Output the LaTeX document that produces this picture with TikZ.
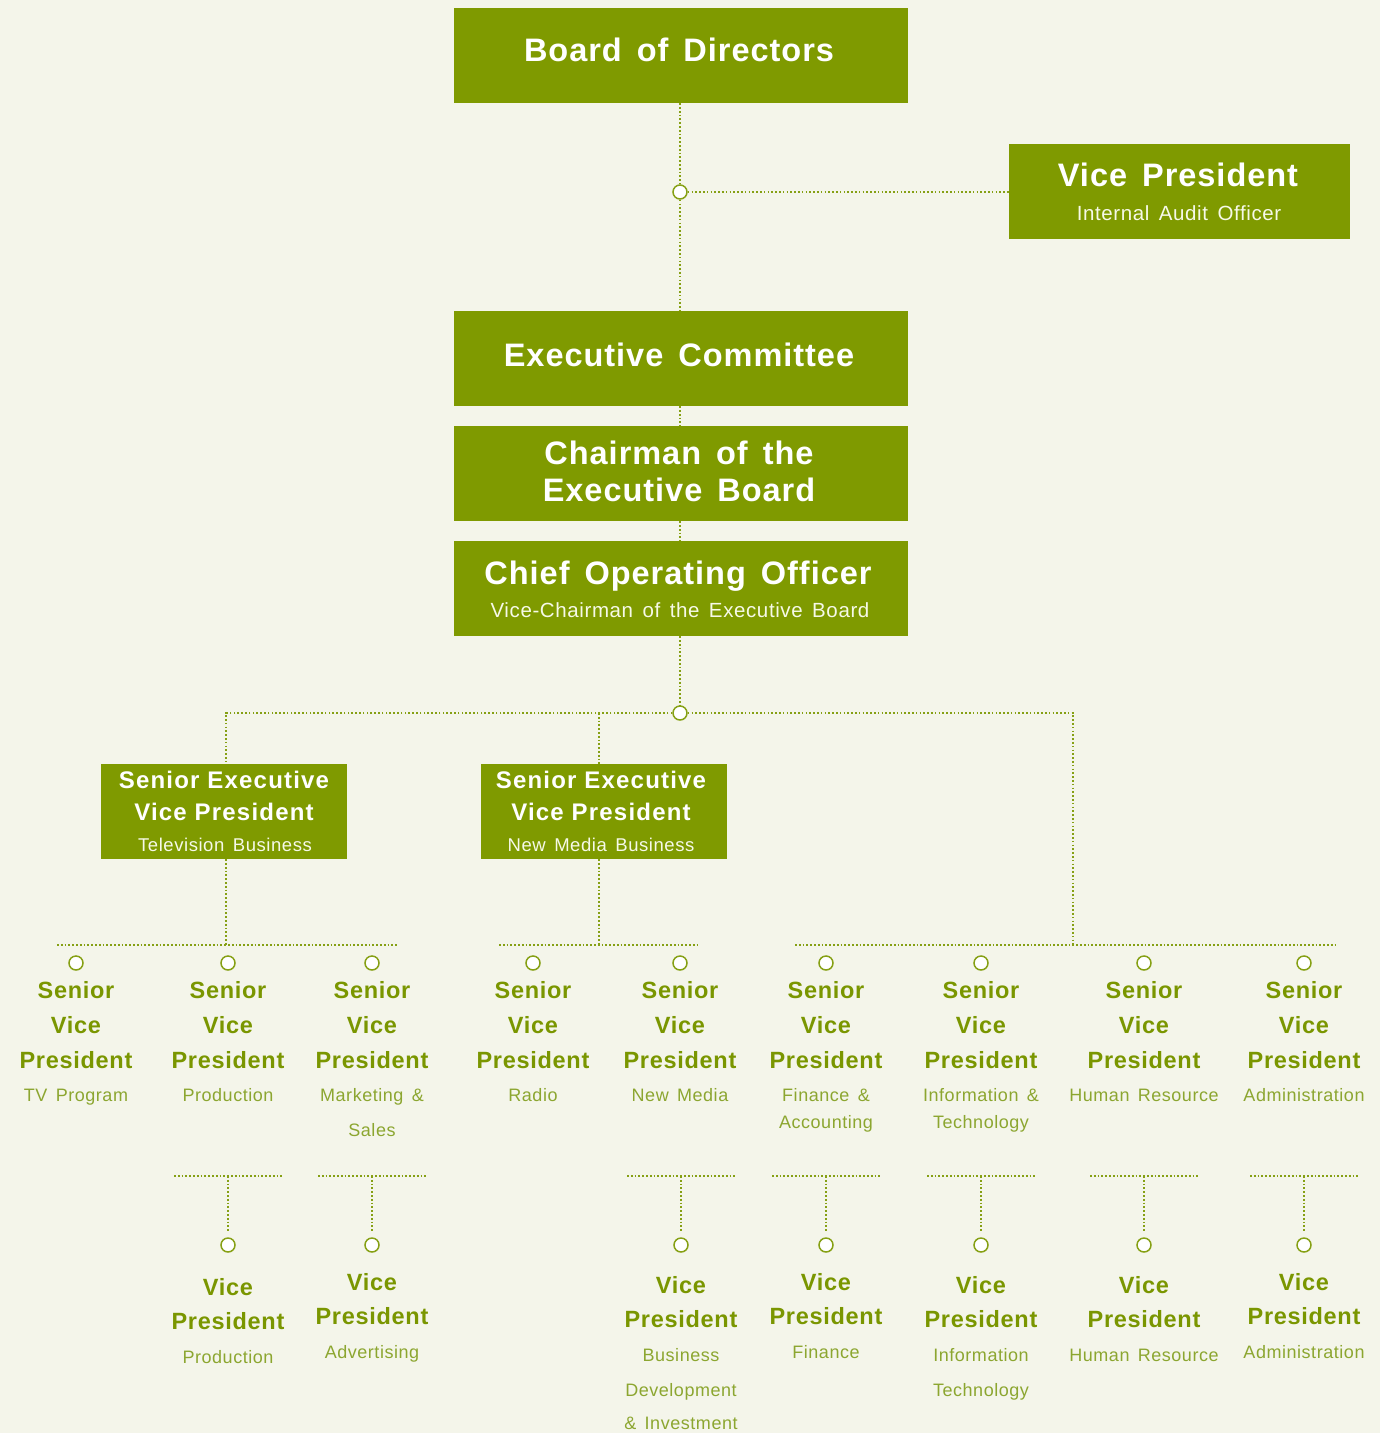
\documentclass[tikz,border=0pt]{standalone}
\usepackage{fontspec}
\setmainfont{Liberation Sans}
\newfontfamily\headfont{Liberation Sans}[LetterSpace=3,WordSpace=2]
\newfontfamily\midfont{Liberation Sans}[LetterSpace=5]
\newfontfamily\svpfont{Liberation Sans}[LetterSpace=3]
\newfontfamily\thinfont{Liberation Sans}[LetterSpace=3,WordSpace=1.5]

\definecolor{bg}{RGB}{244,245,234}
\definecolor{olive}{RGB}{127,154,0}
\definecolor{oltext}{RGB}{122,150,0}
\definecolor{olsub}{RGB}{140,166,48}
\definecolor{olline}{RGB}{134,160,20}
\definecolor{paletext}{RGB}{246,249,232}

% one column of a senior vice president: marker and three-line title
\newcommand\svpcol[2]{%
  \node[dotc] (c#1) at (#2,963) {};
  \node[svpt] (#1a) at (#2,998) {Senior};
  \node[svpt] (#1b) at (#2,1033) {Vice};
  \node[svpt] (#1c) at (#2,1068) {President};}

% one column of a vice president: bracket, stem, marker and title
\newcommand\vpcol[3]{%
  \node[dotc] (v#1) at (#2,1245) {};
  \coordinate (b#1) at (#2,1176);
  \draw[conn] ([xshift=-54pt]b#1) -- ([xshift=54pt]b#1);
  \draw[conn,shorten >=5pt] (b#1) -- (v#1);
  \node[svpt] (#1a) at (#2,#3+8) {Vice};
  \node[svpt] (#1b) at (#2,#3+42) {President};}

\begin{document}
\begin{tikzpicture}[x=1pt,y=-1pt,
  obox/.style={fill=olive,draw=none,inner sep=0,minimum width=#1,minimum height=95pt},
  ttl/.style={text=white,font=\headfont\bfseries\fontsize{32.5}{38}\selectfont,anchor=base,inner sep=0},
  boxsub/.style={text=paletext,font=\thinfont\fontsize{20.5}{25}\selectfont,anchor=base,inner sep=0},
  sevt/.style={text=white,font=\midfont\bfseries\fontsize{24}{29}\selectfont,anchor=base,inner sep=0},
  sevs/.style={text=paletext,font=\thinfont\fontsize{18.5}{22}\selectfont,anchor=base,inner sep=0},
  svpt/.style={text=oltext,font=\svpfont\bfseries\fontsize{23.5}{28}\selectfont,anchor=base,inner sep=0},
  svps/.style={text=olsub,font=\thinfont\fontsize{18}{22}\selectfont,anchor=base,inner sep=0},
  dotc/.style={circle,draw=olline,line width=1.5pt,fill=white,minimum size=14pt,inner sep=0},
  conn/.style={draw=olline,line width=1.7pt,dash pattern=on 1.7pt off 2.1pt}]

\useasboundingbox (0,0) rectangle (1380,1433);
\fill[bg] (0,0) rectangle (1380,1433);

% ---- boxes ----
\node[obox=454pt] (board) at (681,55.5) {};
\node[obox=341pt] (audit) at (1179.5,191.5) {};
\node[obox=454pt] (excom) at (681,358.5) {};
\node[obox=454pt] (chair) at (681,473.5) {};
\node[obox=454pt] (coo) at (681,588.5) {};
\node[obox=246pt] (sevtv) at (224,811.5) {};
\node[obox=246pt] (sevnm) at (604,811.5) {};

% ---- box texts ----
\node[ttl] (board-t) at (679,61.5) {Board of Directors};
\node[ttl] (audit-t) at (1178,186) {Vice President};
\node[boxsub] (audit-s) at (1179,220.7) {Internal Audit Officer};
\node[ttl] (excom-t) at (679,366.5) {Executive Committee};
\node[ttl] (chair-t1) at (679,464.5) {Chairman of the};
\node[ttl] (chair-t2) at (679,501.5) {Executive Board};
\node[ttl] (coo-t) at (678,584.5) {Chief Operating Officer};
\node[boxsub] (coo-s) at (680,617.4) {Vice-Chairman of the Executive Board};
\node[sevt] (sevtv-t1) at (224,788.4) {Senior Executive};
\node[sevt] (sevtv-t2) at (224,820.4) {Vice President};
\node[sevs] (sevtv-s) at (225,851.5) {Television Business};
\node[sevt] (sevnm-t1) at (601,788.4) {Senior Executive};
\node[sevt] (sevnm-t2) at (601,820.4) {Vice President};
\node[sevs] (sevnm-s) at (601,851.5) {New Media Business};

% ---- upper connectors ----
\node[dotc] (j1) at (680,192) {};
\draw[conn] (board.south -| j1) -- (j1);
\draw[conn] (j1) -- (excom.north -| j1);
\draw[conn] (j1) -- (audit.west |- j1);
\draw[conn] (excom.south -| j1) -- (chair.north -| j1);
\draw[conn] (chair.south -| j1) -- (coo.north -| j1);

\node[dotc] (j2) at (680,713) {};
\coordinate (jtv) at (226,713);
\coordinate (jnm) at (599,713);
\coordinate (jst) at (1073,713);
\draw[conn] (coo.south -| j2) -- (j2);
\draw[conn] (j2) -- (jtv) -- (jtv |- sevtv.north);
\draw[conn] (jnm) -- (jnm |- sevnm.north);

% ---- brackets above the senior vice presidents ----
\coordinate (btvL) at (57,945);   \coordinate (btvR) at (398,945);
\coordinate (bnmL) at (499,945);  \coordinate (bnmR) at (700,945);
\coordinate (bstL) at (795,945);  \coordinate (bstR) at (1337,945);
\draw[conn] (btvL) -- (btvR);
\draw[conn] (bnmL) -- (bnmR);
\draw[conn] (bstL) -- (bstR);
\draw[conn] (sevtv.south -| jtv) -- (jtv |- btvL);
\draw[conn] (sevnm.south -| jnm) -- (jnm |- bnmL);
\draw[conn] (j2) -- (jst) -- (jst |- bstL);

% ---- senior vice presidents ----
\svpcol{tv}{76}
\svpcol{prod}{228}
\svpcol{mkt}{372}
\svpcol{radio}{533}
\svpcol{nmed}{680}
\svpcol{fin}{826}
\svpcol{it}{981}
\svpcol{hr}{1144}
\svpcol{adm}{1304}

\node[svps] (tv-s) at (76,1101.3) {TV Program};
\node[svps] (prod-s) at (228,1101.3) {Production};
\node[svps] (mkt-s1) at (372,1101.3) {Marketing \&};
\node[svps] (mkt-s2) at (372,1136.3) {Sales};
\node[svps] (radio-s) at (533,1101.3) {Radio};
\node[svps] (nmed-s) at (680,1101.3) {New Media};
\node[svps] (fin-s1) at (826,1101.3) {Finance \&};
\node[svps] (fin-s2) at (826,1128.3) {Accounting};
\node[svps] (it-s1) at (981,1101.3) {Information \&};
\node[svps] (it-s2) at (981,1128.3) {Technology};
\node[svps] (hr-s) at (1144,1101.3) {Human Resource};
\node[svps] (adm-s) at (1304,1101.3) {Administration};

% ---- vice presidents ----
\vpcol{vprod}{228}{1287}
\vpcol{vadv}{372}{1282}
\vpcol{vbd}{681}{1285}
\vpcol{vfin}{826}{1282}
\vpcol{vit}{981}{1285}
\vpcol{vhr}{1144}{1285}
\vpcol{vadm}{1304}{1282}

\node[svps] (vprod-s) at (228,1363.3) {Production};
\node[svps] (vadv-s) at (372,1358.3) {Advertising};
\node[svps] (vbd-s1) at (681,1361.3) {Business};
\node[svps] (vbd-s2) at (681,1396.3) {Development};
\node[svps] (vbd-s3) at (681,1429.3) {\& Investment};
\node[svps] (vfin-s) at (826,1358.3) {Finance};
\node[svps] (vit-s1) at (981,1361.3) {Information};
\node[svps] (vit-s2) at (981,1396.3) {Technology};
\node[svps] (vhr-s) at (1144,1361.3) {Human Resource};
\node[svps] (vadm-s) at (1304,1358.3) {Administration};
\end{tikzpicture}
\end{document}
